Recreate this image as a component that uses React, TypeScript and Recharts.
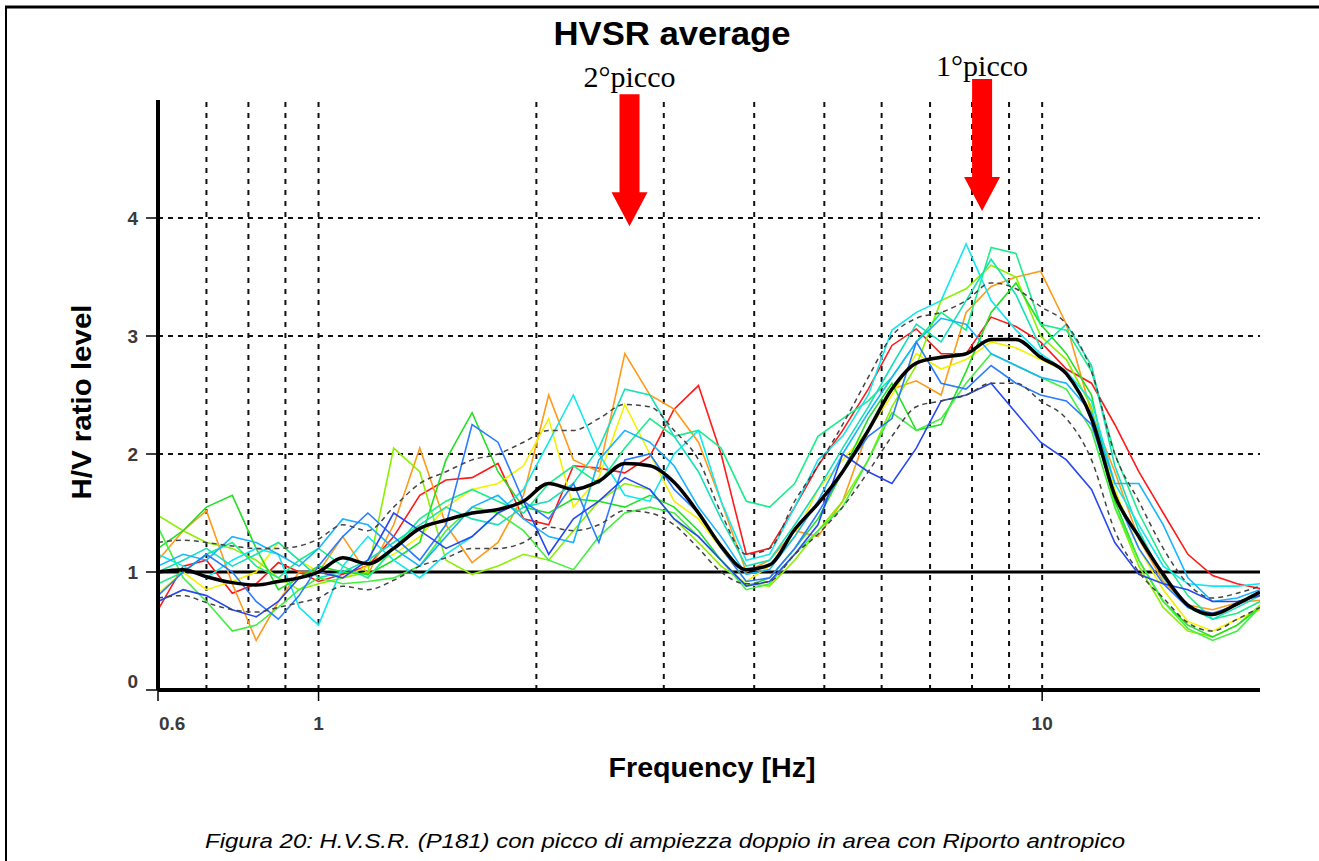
import React from 'react';
import { LineChart, Line, XAxis, YAxis, ReferenceLine, ReferenceDot } from 'recharts';

// frequency grid (Hz)
const FREQ = [
  0.6, 0.65, 0.7, 0.76, 0.82, 0.88, 0.94, 1.0, 1.08, 1.17, 1.27, 1.38, 1.5, 1.63, 1.77, 1.92,
  2.08, 2.25, 2.44, 2.65, 2.87, 3.1, 3.35, 3.6, 3.9, 4.2, 4.55, 4.9, 5.3, 5.75, 6.2, 6.7,
  7.25, 7.85, 8.5, 9.2, 9.95, 10.8, 11.7, 12.6, 13.6, 14.7, 15.9, 17.2, 18.6, 20,
];

// single windows
const W_RED = [
  0.68, 1.05, 1.1, 0.82, 0.9, 1.08, 1.0, 0.92, 0.98, 1.05, 1.3, 1.65, 1.78, 1.8, 1.92, 1.45,
  1.4, 1.9, 1.88, 1.84, 1.98, 2.38, 2.58, 2.0, 1.15, 1.2, 1.55, 1.9, 2.2, 2.55, 2.92, 3.06,
  2.85, 2.85, 3.16, 3.08, 2.95, 2.72, 2.6, 2.25, 1.85, 1.5, 1.15, 0.97, 0.9, 0.86,
];
const W_ORANGE = [
  1.1, 1.35, 1.52, 0.9, 0.42, 0.75, 1.0, 1.0, 1.3, 0.98, 1.4, 2.05, 1.4, 1.08, 1.25, 1.65,
  2.5, 1.95, 1.85, 2.85, 2.5, 2.38, 2.1, 1.6, 1.0, 1.1, 1.35, 1.3, 1.6, 2.2, 2.55, 2.62,
  2.5, 3.2, 3.42, 3.5, 3.55, 3.1, 2.35, 1.85, 1.28, 0.92, 0.72, 0.68, 0.74, 0.76,
];
const W_YELLOW = [
  0.82, 1.0, 0.85, 0.92, 1.0, 1.25, 1.1, 1.0, 0.95, 1.05, 1.15, 1.3, 1.55, 1.7, 1.75, 1.9,
  2.3, 1.55, 1.8, 2.42, 2.0, 1.6, 1.45, 1.2, 0.92, 1.05, 1.3, 1.7, 1.95, 2.2, 2.5, 2.85,
  2.72, 2.8, 2.95, 2.9, 2.8, 2.7, 2.35, 1.7, 1.2, 0.85, 0.58, 0.5, 0.6, 0.68,
];
const W_LIME = [
  1.48, 1.35, 1.25, 1.2, 1.1, 0.95, 0.85, 0.9, 0.95, 1.0, 2.05, 1.85, 1.1, 0.98, 1.05, 1.15,
  1.1, 1.35, 1.6, 1.75, 1.7, 1.45, 1.25, 1.05, 0.9, 0.88, 1.1, 1.35, 1.6, 1.95, 2.4, 2.75,
  3.3, 3.4, 3.6, 3.5, 3.0, 2.8, 2.4, 1.55, 1.05, 0.7, 0.5, 0.45, 0.55, 0.72,
];
const W_GREEN = [
  1.2, 1.35, 1.55, 1.65, 1.2, 0.85, 0.95, 1.05, 1.0, 0.98, 1.1, 1.25, 1.95, 2.35, 1.85, 1.55,
  1.5, 1.62, 1.6, 1.55, 1.65, 1.55, 1.35, 1.1, 0.88, 0.95, 1.2, 1.45, 1.85, 2.3, 2.6, 2.2,
  2.25, 2.7, 3.2, 3.45, 3.1, 2.85, 2.5, 1.6, 1.1, 0.75, 0.55, 0.45, 0.55, 0.7,
];
const W_GREEN2 = [
  1.38, 0.95, 0.75, 0.5, 0.55, 0.7, 0.85, 0.95, 0.9, 0.92, 0.95, 1.05, 1.35, 1.55, 1.5, 1.35,
  1.1, 1.02, 1.3, 1.5, 1.55, 1.5, 1.3, 1.1, 0.85, 0.9, 1.15, 1.35, 1.55, 1.95, 2.35, 2.2,
  2.3, 2.6, 2.85, 2.75, 2.65, 2.55, 2.2, 1.55, 1.1, 0.75, 0.52, 0.42, 0.5, 0.7,
];
const W_SPRING = [
  0.9, 1.0, 1.15, 1.25, 1.05, 0.95, 1.1, 1.2, 1.05, 0.95, 1.2, 1.45, 1.6, 1.7, 1.6, 1.5,
  1.75, 1.9, 1.75, 2.05, 2.3, 2.15, 2.2, 2.05, 1.6, 1.55, 1.75, 2.15, 2.3, 2.45, 2.65, 2.95,
  3.2, 3.05, 3.75, 3.7, 3.1, 3.05, 2.7, 2.0, 1.5, 1.1, 0.8, 0.6, 0.65, 0.75,
];
const W_AQUA = [
  1.0, 1.1, 1.2, 1.05, 1.15, 1.25, 1.1, 0.95, 1.0, 1.1, 1.25, 1.4, 1.55, 1.45, 1.4, 1.55,
  1.6, 1.75, 2.05, 2.55, 2.5, 2.15, 1.85, 1.45, 1.05, 1.1, 1.4, 1.7, 2.05, 2.4, 2.75, 3.1,
  2.95, 3.3, 3.65, 3.35, 2.9, 3.1, 2.75, 1.9, 1.35, 0.95, 0.7, 0.6, 0.7, 0.8,
];
const W_CYAN = [
  1.15, 1.05, 0.95, 1.1, 1.2, 1.15, 0.7, 0.55, 1.05, 1.3, 1.1, 0.95, 1.15, 1.3, 1.5, 1.7,
  2.1, 2.5, 2.0, 1.65, 1.6, 2.0, 2.2, 1.6, 1.1, 1.15, 1.55, 1.95, 2.15, 2.5, 3.05, 3.2,
  3.3, 3.78, 3.3, 3.05, 2.85, 2.7, 2.45, 1.75, 1.4, 1.05, 0.9, 0.88, 0.88, 0.9,
];
const W_SKY = [
  1.05, 1.15, 1.1, 1.3, 1.25, 1.15, 1.05, 1.2, 1.45, 1.4, 1.2, 1.05, 1.3, 1.55, 1.65, 1.45,
  1.3, 1.25, 1.95, 2.2, 2.1, 1.9, 1.55, 1.3, 0.98, 1.02, 1.3, 1.6, 2.0, 2.35, 2.65, 2.95,
  3.15, 3.1, 2.85, 2.75, 2.65, 2.6, 2.35, 1.75, 1.75, 1.4, 0.95, 0.75, 0.78, 0.85,
];
const W_BLUE = [
  0.8, 1.0, 1.15, 1.0, 0.75, 0.6, 0.8, 1.05, 1.3, 1.5, 1.3, 1.1, 1.4, 2.25, 2.1, 1.6,
  1.45, 1.75, 1.25, 1.95, 2.0, 1.7, 1.5, 1.2, 0.92, 0.95, 1.2, 1.5, 1.85, 2.15, 2.3, 2.95,
  2.6, 2.55, 2.75, 2.6, 2.5, 2.45, 2.25, 1.65, 1.2, 0.9, 0.7, 0.65, 0.72, 0.82,
];
const W_ROYAL = [
  0.75, 0.85, 0.8, 0.68, 0.62, 0.75, 0.95, 1.0, 0.95, 1.1, 1.5, 1.35, 1.2, 1.3, 1.5, 1.6,
  1.15, 1.45, 1.6, 1.8, 1.7, 1.45, 1.3, 1.1, 0.88, 0.92, 1.15, 1.4, 2.0, 1.85, 1.75, 2.05,
  2.45, 2.5, 2.6, 2.35, 2.1, 1.95, 1.7, 1.25, 0.98, 0.9, 0.85, 0.75, 0.75, 0.8,
];

// average and standard deviation curves
const H_MEAN = [
  1.0, 1.02, 0.96, 0.91, 0.89, 0.92, 0.95, 1.0, 1.12, 1.07, 1.2, 1.37, 1.44, 1.5, 1.53, 1.6,
  1.75, 1.7, 1.77, 1.92, 1.9, 1.76, 1.5, 1.22, 1.02, 1.06, 1.36, 1.58, 1.85, 2.2, 2.55, 2.77,
  2.82, 2.85, 2.97, 2.97, 2.82, 2.68, 2.3, 1.65, 1.3, 0.98, 0.72, 0.64, 0.73, 0.83,
];
const H_UPPER = [
  1.25, 1.27, 1.25, 1.22, 1.2, 1.2, 1.22, 1.28, 1.4, 1.35, 1.55, 1.75, 1.85, 1.95, 2.0, 2.1,
  2.2, 2.2, 2.3, 2.42, 2.4, 2.2, 1.95, 1.5, 1.15, 1.2, 1.6, 1.9, 2.25, 2.65, 3.0, 3.15,
  3.2, 3.3, 3.45, 3.4, 3.25, 3.1, 2.7, 2.0, 1.6, 1.2, 0.9, 0.78, 0.82, 0.88,
];
const H_LOWER = [
  0.78, 0.8, 0.74, 0.68, 0.66, 0.7, 0.74, 0.78, 0.88, 0.85, 0.93, 1.05, 1.12, 1.2, 1.2, 1.25,
  1.38, 1.35, 1.4, 1.52, 1.5, 1.4, 1.2, 1.0, 0.9, 0.92, 1.15, 1.32, 1.55, 1.85, 2.15, 2.4,
  2.45, 2.5, 2.6, 2.6, 2.45, 2.3, 1.95, 1.35, 1.0, 0.78, 0.57, 0.5, 0.6, 0.7,
];

const X_TICKS = [0.6, 1, 10];
const Y_TICKS = [0, 1, 2, 3, 4];
const V_GRID = [0.7, 0.8, 0.9, 1, 2, 3, 4, 5, 6, 7, 8, 9, 10];
const H_GRID = [2, 3, 4];

const PEAKS = [
  { label: '2°picco', f: 2.69, v: 3.93, textGap: 139 },
  { label: '1°picco', f: 8.26, v: 4.06, textGap: 135 },
];

const WINDOWS = [
  { key: 'red', values: W_RED, color: '#ff1a1a' },
  { key: 'orange', values: W_ORANGE, color: '#ff9a1a' },
  { key: 'yellow', values: W_YELLOW, color: '#f2f200' },
  { key: 'lime', values: W_LIME, color: '#8cf000' },
  { key: 'green', values: W_GREEN, color: '#22e022' },
  { key: 'green2', values: W_GREEN2, color: '#40f040' },
  { key: 'spring', values: W_SPRING, color: '#1aee8a' },
  { key: 'aqua', values: W_AQUA, color: '#18e0b8' },
  { key: 'cyan', values: W_CYAN, color: '#10e8f0' },
  { key: 'sky', values: W_SKY, color: '#18b4ff' },
  { key: 'blue', values: W_BLUE, color: '#2a7cff' },
  { key: 'royal', values: W_ROYAL, color: '#2848f0' },
];

const data = FREQ.map((f, i) => {
  const row: Record<string, number> = { f, mean: H_MEAN[i], upper: H_UPPER[i], lower: H_LOWER[i] };
  WINDOWS.forEach(w => { row[w.key] = w.values[i]; });
  return row;
});

const SANS = '"Liberation Sans", Arial, sans-serif';

const XTick = (props: any) => {
  const { x, y, payload } = props;
  const first = payload.value === 0.6;
  return (
    <text x={first ? x + 1 : x} y={y} dy="0.71em" textAnchor={first ? 'start' : 'middle'}
      fontFamily={SANS} fontSize={19} fontWeight="bold" fill="#3a3a3a">
      {String(payload.value)}
    </text>
  );
};

const YTick = (props: any) => {
  const { x, y, payload } = props;
  // the zero label sits a little above the axis
  const yy = payload.value === 0 ? y - 9 : y;
  return (
    <text x={x} y={yy} dy="0.355em" textAnchor="end" fontFamily={SANS} fontSize={19}
      fontWeight="bold" fill="#3a3a3a">
      {String(payload.value)}
    </text>
  );
};

const PeakArrow = (props: any) => {
  const { cx, cy, label, textGap } = props;
  const shaftTop = cy - 132;
  const headBase = cy - 34;
  const pts = [
    [cx - 10, shaftTop], [cx + 10, shaftTop], [cx + 10, headBase], [cx + 18, headBase],
    [cx, cy], [cx - 18, headBase], [cx - 10, headBase],
  ].map(p => p.join(',')).join(' ');
  return (
    <g>
      <polygon points={pts} fill="#ff0000" />
      <text x={cx} y={cy - textGap} textAnchor="middle" fontFamily='"Liberation Serif", "Times New Roman", serif'
        fontSize={30} fill="#000">{label}</text>
    </g>
  );
};

export default function App() {
  return (
    <div style={{ position: 'absolute', left: 0, top: 0, width: 1319, height: 861, background: '#fff', overflow: 'hidden' }}>
      <LineChart width={1319} height={861} data={data} margin={{ top: 100, right: 59, left: 98, bottom: 141 }}>
        <XAxis type="number" dataKey="f" scale="log" domain={[0.6, 20]} ticks={X_TICKS} allowDataOverflow
          axisLine={{ stroke: '#000', strokeWidth: 4 }} tickLine={{ stroke: '#000', strokeWidth: 1.5 }}
          tickSize={11} tickMargin={16} height={30} tick={<XTick />} interval={0} />
        <YAxis type="number" domain={[0, 5]} ticks={Y_TICKS} width={60} allowDataOverflow
          axisLine={{ stroke: '#000', strokeWidth: 4 }} tickLine={{ stroke: '#000', strokeWidth: 1.5 }}
          tickSize={12} tickMargin={8} tick={<YTick />} interval={0} />
        {V_GRID.map(v => (
          <ReferenceLine key={'v' + v} x={v} stroke="#111" strokeWidth={2} strokeDasharray="5 6" />
        ))}
        {H_GRID.map(v => (
          <ReferenceLine key={'h' + v} y={v} stroke="#111" strokeWidth={2} strokeDasharray="5 5" />
        ))}
        <ReferenceLine y={1} stroke="#000" strokeWidth={3} />
        {WINDOWS.map(w => (
          <Line key={w.key} dataKey={w.key} stroke={w.color} strokeWidth={1.6} dot={false}
            isAnimationActive={false} type="linear" />
        ))}
        <Line dataKey="upper" stroke="#444" strokeWidth={1.5} strokeDasharray="5 4" dot={false}
          isAnimationActive={false} type="monotone" />
        <Line dataKey="lower" stroke="#444" strokeWidth={1.5} strokeDasharray="5 4" dot={false}
          isAnimationActive={false} type="monotone" />
        <Line dataKey="mean" stroke="#000" strokeWidth={3.5} dot={false}
          isAnimationActive={false} type="monotone" />
        {PEAKS.map(p => (
          <ReferenceDot key={p.label} x={p.f} y={p.v} r={0} ifOverflow="visible"
            shape={(sp: any) => <PeakArrow {...sp} label={p.label} textGap={p.textGap} />} />
        ))}
      </LineChart>
      <svg width={1319} height={861} style={{ position: 'absolute', left: 0, top: 0, pointerEvents: 'none' }}>
        <line x1={5} y1={7} x2={1319} y2={7} stroke="#000" strokeWidth={3} />
        <line x1={6} y1={6} x2={6} y2={861} stroke="#000" strokeWidth={2} />
        <text x={672} y={45} textAnchor="middle" fontFamily={SANS} fontWeight="bold" fontSize={33}
          textLength={237} lengthAdjust="spacingAndGlyphs">HVSR average</text>
        <text x={91} y={402} textAnchor="middle" fontFamily={SANS} fontWeight="bold" fontSize={27}
          textLength={195} lengthAdjust="spacingAndGlyphs"
          transform="rotate(-90 91 402)">H/V ratio level</text>
        <text x={712} y={777} textAnchor="middle" fontFamily={SANS} fontWeight="bold" fontSize={28}
          textLength={207} lengthAdjust="spacingAndGlyphs">Frequency [Hz]</text>
        <text x={665} y={848} textAnchor="middle" fontFamily={SANS} fontStyle="italic" fontSize={21}
          textLength={920} lengthAdjust="spacingAndGlyphs">
          Figura 20: H.V.S.R. (P181) con picco di ampiezza doppio in area con Riporto antropico
        </text>
      </svg>
    </div>
  );
}
